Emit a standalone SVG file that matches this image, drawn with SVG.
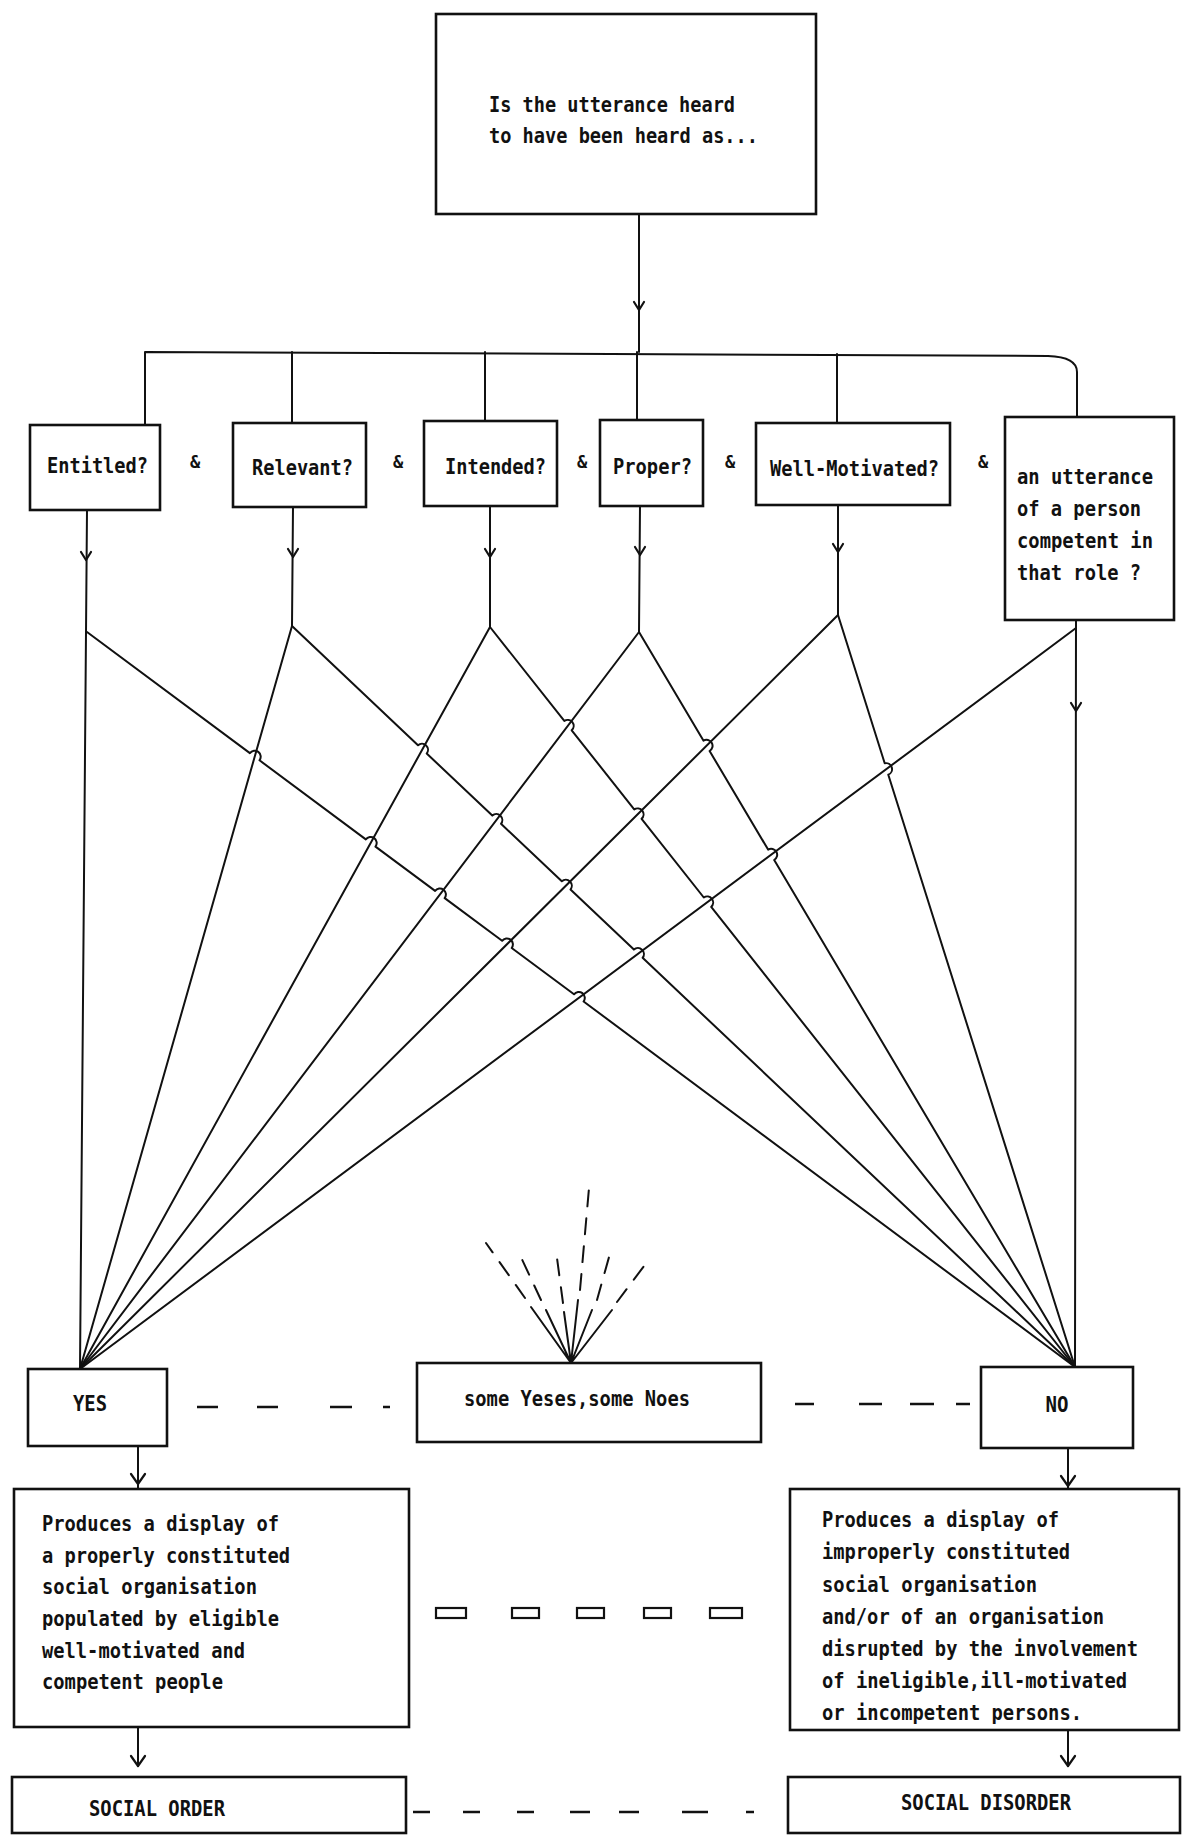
<svg xmlns="http://www.w3.org/2000/svg" width="1193" height="1835" viewBox="0 0 1193 1835">
<style>
.box{fill:#fff;stroke:#111;stroke-width:2.6}
.ln{fill:none;stroke:#111;stroke-width:2;stroke-linecap:round;stroke-linejoin:round}
.ah{fill:none;stroke:#111;stroke-width:2.2;stroke-linecap:round;stroke-linejoin:round}
.ds{fill:none;stroke:#111;stroke-width:2.6}
.t{font-family:"DejaVu Sans Mono","Liberation Mono",monospace;font-weight:bold;font-size:21px;fill:#111}
.amp{font-family:"DejaVu Sans Mono","Liberation Mono",monospace;font-weight:bold;font-size:17px;fill:#111;text-anchor:middle}
.sq{fill:none;stroke:#111;stroke-width:2.2}
</style>
<rect width="1193" height="1835" fill="#fff"/>
<g id="connectors">
  <path class="ln" d="M639,214 L639,352"/>
  <path class="ah" d="M634,302 L639,310 L644,302"/>
  <path class="ln" d="M145,425 L145,352 L1048,356 Q1077,357 1077,372 L1077,417"/>
  <path class="ln" d="M292,352 L292,423"/>
  <path class="ln" d="M485,352 L485,421"/>
  <path class="ln" d="M637,352 L637,420"/>
  <path class="ln" d="M837,354 L837,423"/>
  <path class="ln" d="M87,510 L80,1369"/>
  <path class="ln" d="M293,507 L292,626"/>
  <path class="ln" d="M490,506 L490,627"/>
  <path class="ln" d="M640,506 L639,632"/>
  <path class="ln" d="M838,505 L838,615"/>
  <path class="ln" d="M1076,620 L1075,1367"/>
  <path class="ah" d="M81,552 L86,560 L91,552"/>
  <path class="ah" d="M288,549 L293,557 L298,549"/>
  <path class="ah" d="M485,549 L490,557 L495,549"/>
  <path class="ah" d="M635,547 L640,555 L645,547"/>
  <path class="ah" d="M833,544 L838,552 L843,544"/>
  <path class="ah" d="M1071,703 L1076,711 L1081,703"/>
  <path class="ln" d="M87,632 L249.9,753.1 A6,6 0 0 1 259.5,760.3 L365.8,839.4 A6,6 0 0 1 375.5,846.6 L435.1,890.9 A6,6 0 0 1 444.7,898.1 L502.1,940.8 A6,6 0 0 1 511.7,948 L574,994.3 A6,6 0 0 1 583.6,1001.5 L1075,1367"/>
  <path class="ln" d="M292,626 L418,745.3 A6,6 0 0 1 426.7,753.5 L492.3,815.6 A6,6 0 0 1 501,823.8 L561.8,881.3 A6,6 0 0 1 570.5,889.5 L633.9,949.6 A6,6 0 0 1 642.6,957.8 L1075,1367"/>
  <path class="ln" d="M490,627 L564.3,720.9 A6,6 0 0 1 571.7,730.3 L634.2,809.4 A6,6 0 0 1 641.6,818.8 L703.8,897.5 A6,6 0 0 1 711.2,906.9 L1075,1367"/>
  <path class="ln" d="M639,632 L703.4,740.6 A6,6 0 0 1 709.6,751 L768.1,849.6 A6,6 0 0 1 774.2,860 L1075,1367"/>
  <path class="ln" d="M838,615 L884.7,763.3 A6,6 0 0 1 888.3,774.7 L1075,1367"/>
  <path class="ln" d="M292,626 L80,1369"/>
  <path class="ln" d="M490,627 L80,1369"/>
  <path class="ln" d="M639,632 L80,1369"/>
  <path class="ln" d="M838,615 L80,1369"/>
  <path class="ln" d="M1076,628 L80,1369"/>
  <path class="ln" d="M571,1363 L531,1307 M571,1363 L546,1310 M571,1363 L564,1312 M571,1363 L578,1300 M571,1363 L592,1310 M571,1363 L612,1310"/>
  <path class="ln" stroke-dasharray="16,12" d="M525,1298 L486,1243 M541,1300 L519,1253 M563,1303 L557,1258 M580,1290 L589,1188 M597,1300 L611,1250 M617,1302 L650,1258"/>
  <path class="ds" d="M197,1407 H218 M257,1407 H278 M330,1407 H352 M383,1407 H390"/>
  <path class="ds" d="M795,1404 H814 M859,1404 H882 M910,1404 H934 M956,1404 H970"/>
  <path class="ln" d="M138,1447 L138,1489"/>
  <path class="ah" d="M131,1474 L138,1484 L145,1474"/>
  <path class="ln" d="M1068,1448 L1068,1489"/>
  <path class="ah" d="M1061,1476 L1068,1486 L1075,1476"/>
  <path class="ln" d="M138,1727 L138,1766"/>
  <path class="ah" d="M131,1756 L138,1766 L145,1756"/>
  <path class="ln" d="M1068,1730 L1068,1766"/>
  <path class="ah" d="M1061,1756 L1068,1766 L1075,1756"/>
  <rect class="sq" x="436" y="1608" width="30" height="10"/>
  <rect class="sq" x="512" y="1608" width="27" height="10"/>
  <rect class="sq" x="577" y="1608" width="27" height="10"/>
  <rect class="sq" x="644" y="1608" width="27" height="10"/>
  <rect class="sq" x="710" y="1608" width="32" height="10"/>
  <path class="ds" d="M413,1812 H430 M463,1812 H480 M517,1812 H534 M570,1812 H590 M619,1812 H639 M682,1812 H708 M746,1812 H754"/>
</g>
<g id="question">
  <rect class="box" x="436" y="14" width="380" height="200"/>
  <text class="t" x="489" y="112" textLength="246" lengthAdjust="spacingAndGlyphs">Is the utterance heard</text>
  <text class="t" x="489" y="143" textLength="269" lengthAdjust="spacingAndGlyphs">to have been heard as...</text>
</g>
<g id="entitled">
  <rect class="box" x="30" y="425" width="130" height="85"/>
  <text class="t" x="47" y="473" textLength="101" lengthAdjust="spacingAndGlyphs">Entitled?</text>
</g>
<g id="relevant">
  <rect class="box" x="233" y="423" width="133" height="84"/>
  <text class="t" x="252" y="475" textLength="101" lengthAdjust="spacingAndGlyphs">Relevant?</text>
</g>
<g id="intended">
  <rect class="box" x="424" y="421" width="133" height="85"/>
  <text class="t" x="445" y="474" textLength="101" lengthAdjust="spacingAndGlyphs">Intended?</text>
</g>
<g id="proper">
  <rect class="box" x="600" y="420" width="103" height="86"/>
  <text class="t" x="613" y="474" textLength="79" lengthAdjust="spacingAndGlyphs">Proper?</text>
</g>
<g id="well-motivated">
  <rect class="box" x="756" y="423" width="194" height="82"/>
  <text class="t" x="770" y="476" textLength="169" lengthAdjust="spacingAndGlyphs">Well-Motivated?</text>
</g>
<g id="competent">
  <rect class="box" x="1005" y="417" width="169" height="203"/>
  <text class="t" x="1017" y="484" textLength="136" lengthAdjust="spacingAndGlyphs">an utterance</text>
  <text class="t" x="1017" y="516" textLength="124" lengthAdjust="spacingAndGlyphs">of a person</text>
  <text class="t" x="1017" y="548" textLength="136" lengthAdjust="spacingAndGlyphs">competent in</text>
  <text class="t" x="1017" y="580" textLength="124" lengthAdjust="spacingAndGlyphs">that role ?</text>
</g>
<g id="ampersands">
  <text class="amp" x="195" y="468">&amp;</text>
  <text class="amp" x="398" y="468">&amp;</text>
  <text class="amp" x="582" y="468">&amp;</text>
  <text class="amp" x="730" y="468">&amp;</text>
  <text class="amp" x="983" y="468">&amp;</text>
</g>
<g id="yes">
  <rect class="box" x="28" y="1369" width="139" height="77"/>
  <text class="t" x="90" y="1411" text-anchor="middle" textLength="34" lengthAdjust="spacingAndGlyphs">YES</text>
</g>
<g id="mixed">
  <rect class="box" x="417" y="1363" width="344" height="79"/>
  <text class="t" x="577" y="1406" text-anchor="middle" textLength="226" lengthAdjust="spacingAndGlyphs">some Yeses,some Noes</text>
</g>
<g id="no">
  <rect class="box" x="981" y="1367" width="152" height="81"/>
  <text class="t" x="1057" y="1412" text-anchor="middle" textLength="23" lengthAdjust="spacingAndGlyphs">NO</text>
</g>
<g id="order-display">
  <rect class="box" x="14" y="1489" width="395" height="238"/>
  <text class="t" x="42" y="1531" textLength="237" lengthAdjust="spacingAndGlyphs">Produces a display of</text>
  <text class="t" x="42" y="1563" textLength="248" lengthAdjust="spacingAndGlyphs">a properly constituted</text>
  <text class="t" x="42" y="1594" textLength="215" lengthAdjust="spacingAndGlyphs">social organisation</text>
  <text class="t" x="42" y="1626" textLength="237" lengthAdjust="spacingAndGlyphs">populated by eligible</text>
  <text class="t" x="42" y="1658" textLength="203" lengthAdjust="spacingAndGlyphs">well-motivated and</text>
  <text class="t" x="42" y="1689" textLength="181" lengthAdjust="spacingAndGlyphs">competent people</text>
</g>
<g id="disorder-display">
  <rect class="box" x="790" y="1489" width="389" height="241"/>
  <text class="t" x="822" y="1527" textLength="237" lengthAdjust="spacingAndGlyphs">Produces a display of</text>
  <text class="t" x="822" y="1559" textLength="248" lengthAdjust="spacingAndGlyphs">improperly constituted</text>
  <text class="t" x="822" y="1592" textLength="215" lengthAdjust="spacingAndGlyphs">social organisation</text>
  <text class="t" x="822" y="1624" textLength="282" lengthAdjust="spacingAndGlyphs">and/or of an organisation</text>
  <text class="t" x="822" y="1656" textLength="316" lengthAdjust="spacingAndGlyphs">disrupted by the involvement</text>
  <text class="t" x="822" y="1688" textLength="305" lengthAdjust="spacingAndGlyphs">of ineligible,ill-motivated</text>
  <text class="t" x="822" y="1720" textLength="260" lengthAdjust="spacingAndGlyphs">or incompetent persons.</text>
</g>
<g id="social-order">
  <rect class="box" x="12" y="1777" width="394" height="56"/>
  <text class="t" x="89" y="1816" textLength="136" lengthAdjust="spacingAndGlyphs">SOCIAL ORDER</text>
</g>
<g id="social-disorder">
  <rect class="box" x="788" y="1777" width="392" height="56"/>
  <text class="t" x="901" y="1810" textLength="170" lengthAdjust="spacingAndGlyphs">SOCIAL DISORDER</text>
</g>
</svg>
